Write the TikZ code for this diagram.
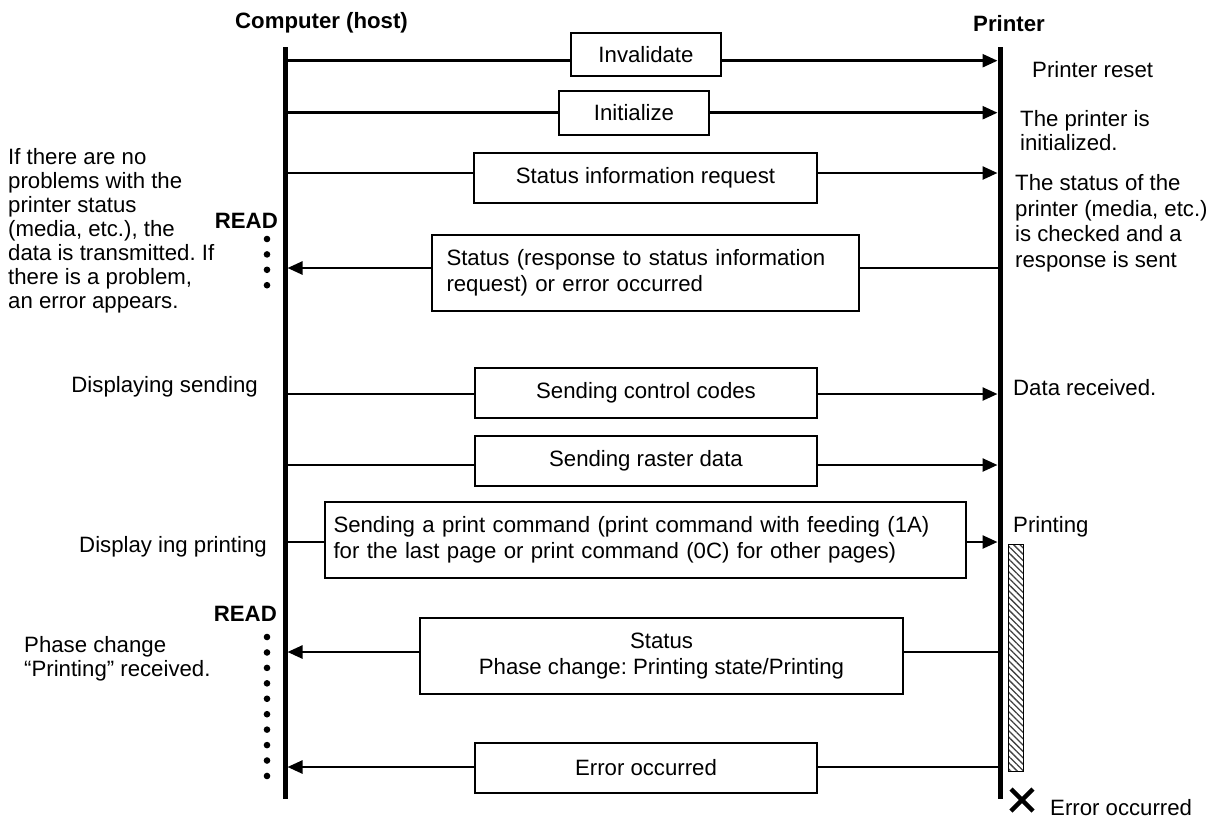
\documentclass[tikz,border=0pt]{standalone}
\usepackage{fontspec}
\setmainfont{Liberation Sans}
\usetikzlibrary{arrows.meta,patterns.meta}
\frenchspacing
\begin{document}
\begin{tikzpicture}[x=1pt,y=-1pt,
  every node/.style={font=\frenchspacing\fontsize{22.2}{24}\selectfont, inner sep=0pt},
  life/.style={line width=5pt},
  msg/.style={line width=2.5pt},
  msgarrow/.style={line width=2.5pt,-{Triangle[length=15pt,width=13pt]}},
  msgbox/.style={draw, line width=1.5pt, fill=white, align=center, font=\frenchspacing\fontsize{22.2}{26}\selectfont},
  lbl/.style={align=left},
  titletext/.style={font=\bfseries\fontsize{22.2}{24}\selectfont}
]
\useasboundingbox (0,0) rectangle (1216,823);

% lifelines
\coordinate (hT) at (285,47);
\coordinate (hB) at (285,799);
\coordinate (pT) at (1000,47);
\coordinate (pB) at (1000,799);
\draw[life] (hT) -- (hB);
\draw[life] (pT) -- (pB);

% titles
\node[titletext, anchor=base west] (host) at (235,28) {Computer (host)};
\node[titletext, anchor=base west] (prn) at (973,31.5) {Printer};

% message boxes
\node[msgbox, minimum width=150pt, minimum height=43pt] (m1) at (646,54.5) {Invalidate};
\node[msgbox, minimum width=150pt, minimum height=44pt] (m2) at (634,113) {Initialize};
\node[msgbox, minimum width=343pt, minimum height=50pt] (m3) at (645.5,178) {Status information request};
\node[msgbox, align=left, text width=398pt, inner xsep=14.5pt, minimum height=76pt] (m4) at (645.5,273)
  {Status (response to status information\\request) or error occurred};
\node[msgbox, minimum width=342pt, minimum height=50pt] (m5) at (646,393) {Sending control codes};
\node[msgbox, minimum width=342pt, minimum height=50pt] (m6) at (646,461) {Sending raster data};
\node[msgbox, align=left, text width=624pt, inner xsep=8.5pt, minimum height=76pt] (m7) at (645.5,540)
  {Sending a print command (print command with feeding (1A)\\for the last page or print command (0C) for other pages)};
\node[msgbox, minimum width=483pt, minimum height=76pt] (m8) at (661.5,656)
  {Status\\Phase change: Printing state/Printing};
\node[msgbox, minimum width=342pt, minimum height=50pt] (m9) at (646,768) {Error occurred};

% lifeline points
\foreach \i/\y in {1/60.7,2/112.7,3/173,4/268,5/394,6/465,7/542,8/652,9/767}{
  \coordinate (h\i) at (285,\y);
  \coordinate (hh\i) at (287.5,\y);
  \coordinate (p\i) at (997.5,\y);
  \coordinate (pp\i) at (1000,\y);
}

% host -> printer
\foreach \i in {1,2,3,5,6,7}{
  \draw[msg] (h\i) -- (h\i -| m\i.west);
  \draw[msgarrow] (p\i -| m\i.east) -- (p\i);
}
% printer -> host
\foreach \i in {4,8,9}{
  \draw[msg] (pp\i) -- (pp\i -| m\i.east);
  \draw[msgarrow] (hh\i -| m\i.west) -- (hh\i);
}

% READ marks
\node[titletext, anchor=base east] (read1) at (278,228) {READ};
\node[titletext, anchor=base east] (read2) at (277,621) {READ};
\foreach \k in {0,...,3}{ \fill (267,239+15.4*\k) circle (3.3pt); }
\foreach \k in {0,...,9}{ \fill (267,637+15.44*\k) circle (3.3pt); }

% printing bar
\draw[line width=1pt, pattern={Lines[angle=-45,distance=4.5pt,line width=1.3pt]}, pattern color=black!75]
  (1008,544) rectangle (1023,771);

% error cross
\draw[line width=4.5pt] (1011,789) -- (1033,811) (1011,811) -- (1033,789);

% left notes
\node[lbl, anchor=north west] (nl1) at (8,148.3)
  {If there are no\\problems with the\\printer status\\(media, etc.), the\\data is transmitted. If\\there is a problem,\\an error appears.};
\node[anchor=base east] (nl2) at (258,392.5) {Displaying sending};
\node[anchor=base east] (nl3) at (267,552.5) {Display ing printing};
\node[lbl, anchor=north west] (nl4) at (24,636.3) {Phase change\\“Printing” received.};

% right notes
\node[anchor=base west] (nr1) at (1032,77.5) {Printer reset};
\node[lbl, anchor=north west] (nr2) at (1020,110.3) {The printer is\\initialized.};
\node[lbl, anchor=north west, font=\frenchspacing\fontsize{22.2}{25.5}\selectfont] (nr3) at (1015,174.3)
  {The status of the\\printer (media, etc.)\\is checked and a\\response is sent};
\node[anchor=base west] (nr4) at (1013,395.5) {Data received.};
\node[anchor=base west] (nr5) at (1013,532.5) {Printing};
\node[anchor=base west] (nr6) at (1050,815.5) {Error occurred};
\end{tikzpicture}
\end{document}
